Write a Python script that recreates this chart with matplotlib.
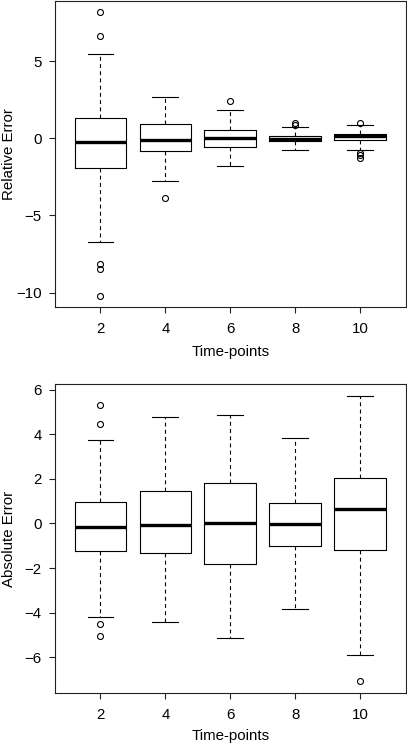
import matplotlib
matplotlib.use("Agg")
import matplotlib.pyplot as plt

plt.rcParams['font.family'] = ['Liberation Sans', 'DejaVu Sans']

time_points = ["2", "4", "6", "8", "10"]

# Relative error panel
rel_whislo = [-6.75, -2.80, -1.81, -0.78, -0.78]
rel_q1 = [-1.90, -0.80, -0.56, -0.20, -0.13]
rel_med = [-0.24, -0.09, 0.00, -0.02, 0.15]
rel_q3 = [1.33, 0.94, 0.56, 0.15, 0.28]
rel_whishi = [5.43, 2.65, 1.83, 0.75, 0.84]
rel_fliers = [[8.18, 6.63, -8.15, -8.45, -10.24],
              [-3.86],
              [2.41],
              [0.97, 0.87],
              [1.01, -0.95, -1.10, -1.25]]

# Absolute error panel
abs_whislo = [-4.22, -4.43, -5.12, -3.86, -5.91]
abs_q1 = [-1.23, -1.32, -1.81, -0.99, -1.20]
abs_med = [-0.15, -0.09, 0.04, -0.01, 0.66]
abs_q3 = [0.97, 1.45, 1.81, 0.93, 2.03]
abs_whishi = [3.73, 4.76, 4.86, 3.82, 5.72]
abs_fliers = [[5.30, 4.45, -4.52, -5.06],
              [],
              [],
              [],
              [-7.08]]


def make_stats(lo, q1, med, q3, hi, fl):
    return [dict(whislo=a, q1=b, med=c, q3=d, whishi=e, fliers=f)
            for a, b, c, d, e, f in zip(lo, q1, med, q3, hi, fl)]


fig = plt.figure(figsize=(4.07, 7.43), dpi=100)
ax1 = fig.add_axes([55/407, 1 - 307/743, 351/407, 306.5/743])
ax2 = fig.add_axes([55/407, 1 - 693/743, 351/407, 308.5/743])

panels = [
    (ax1, make_stats(rel_whislo, rel_q1, rel_med, rel_q3, rel_whishi, rel_fliers),
     "Relative Error", (-10.93, 8.92), [-10, -5, 0, 5], -0.146),
    (ax2, make_stats(abs_whislo, abs_q1, abs_med, abs_q3, abs_whishi, abs_fliers),
     "Absolute Error", (-7.61, 6.24), [-6, -4, -2, 0, 2, 4, 6], -0.140),
]

lw = 0.8
fs = 10.8
for ax, stats, ylabel, ylim, yticks, xly in panels:
    positions = list(range(1, len(time_points) + 1))
    ax.bxp(stats, positions=positions, widths=0.8, showfliers=True,
           boxprops=dict(color='black', linewidth=lw),
           whiskerprops=dict(color='black', linewidth=lw, linestyle=(0, (3.5, 3))),
           capprops=dict(color='black', linewidth=lw),
           capwidths=0.4,
           medianprops=dict(color='black', linewidth=2.4, solid_capstyle='butt'),
           flierprops=dict(marker='o', markerfacecolor='none', markeredgecolor='black',
                           markersize=4.3, markeredgewidth=0.8, linestyle='none'))
    ax.set_xlim(0.3, 5.7)
    ax.set_ylim(*ylim)
    ax.set_xticks(positions)
    ax.set_xticklabels(time_points)
    ax.set_yticks(yticks)
    for sp in ax.spines.values():
        sp.set_linewidth(lw)
        sp.set_color('#222222')
    ax.tick_params(axis='both', direction='out', length=4.5, width=lw,
                   labelsize=fs, color='#222222')
    ax.tick_params(axis='x', pad=6)
    ax.tick_params(axis='y', pad=5)
    ax.set_xlabel("Time-points", fontsize=fs)
    ax.set_ylabel(ylabel, fontsize=fs)
    ax.xaxis.set_label_coords(0.5, xly)
    ax.xaxis.label.set_verticalalignment('center')
    ax.yaxis.set_label_coords(-0.112, 0.5)

fig.savefig("out.png", dpi=100)
